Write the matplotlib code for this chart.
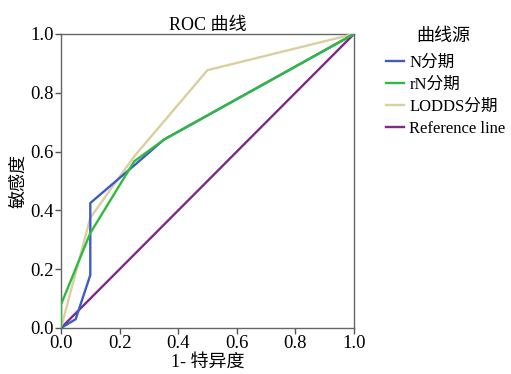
import matplotlib
matplotlib.use("Agg")
import matplotlib.pyplot as plt
from matplotlib.lines import Line2D

plt.rcParams['font.family'] = ['Liberation Serif', 'Noto Sans CJK SC']

# Data
n_x = [0.0, 0.05, 0.10, 0.10, 0.25, 0.35, 1.0]
n_y = [0.0, 0.03, 0.18, 0.425, 0.553, 0.64, 1.0]
rn_x = [0.0, 0.0, 0.10, 0.25, 0.355, 1.0]
rn_y = [0.0, 0.08, 0.323, 0.567, 0.643, 1.0]
lodds_x = [0.0, 0.10, 0.25, 0.50, 1.0]
lodds_y = [0.0, 0.375, 0.584, 0.877, 1.0]
ref_x = [0.0, 1.0]
ref_y = [0.0, 1.0]
labels = ['N分期', 'rN分期', 'LODDS分期', 'Reference line']
ticks = [0.0, 0.2, 0.4, 0.6, 0.8, 1.0]
tick_labels = ['0.0', '0.2', '0.4', '0.6', '0.8', '1.0']

colors = ['#3d5cc4', '#2fba3e', '#d8d09e', '#7e2a86']

fig = plt.figure(figsize=(5.11, 3.74), dpi=100)
ax = fig.add_axes([61/511, 1 - 328/374, 293/511, 294/374])

ax.plot(ref_x, ref_y, color=colors[3], lw=1.7, zorder=2)
ax.plot(lodds_x, lodds_y, color=colors[2], lw=1.7, zorder=3)
ax.plot(n_x, n_y, color=colors[0], lw=1.7, zorder=4)
ax.plot(rn_x, rn_y, color=colors[1], lw=1.7, zorder=5)

ax.set_xlim(0, 1)
ax.set_ylim(0, 1)
ax.set_xticks(ticks)
ax.set_xticklabels(tick_labels)
ax.set_yticks(ticks)
ax.set_yticklabels(tick_labels)
ax.tick_params(direction='out', length=4, width=1, color='#555555', labelsize=13.5, pad=1)
for s in ax.spines.values():
    s.set_color('#666666')
    s.set_linewidth(1.0)

ax.set_title('ROC 曲线', fontsize=13, pad=3)
ax.set_xlabel('1- 特异度', fontsize=13, labelpad=1)
ax.set_ylabel('敏感度', fontsize=13, labelpad=2)

fig.text(443/511, 1 - 37/374, '曲线源', fontsize=13, ha='center', va='center')
handles = [Line2D([0], [0], color=c, lw=1.7) for c in colors]
leg = fig.legend(handles, labels, loc='upper left',
                 bbox_to_anchor=(386/511, 1 - 55/374), frameon=False,
                 fontsize=12, handlelength=1.1,
                 handletextpad=0.3, labelspacing=0.36, borderaxespad=0,
                 borderpad=0)

fig.savefig('out.png', dpi=100)
